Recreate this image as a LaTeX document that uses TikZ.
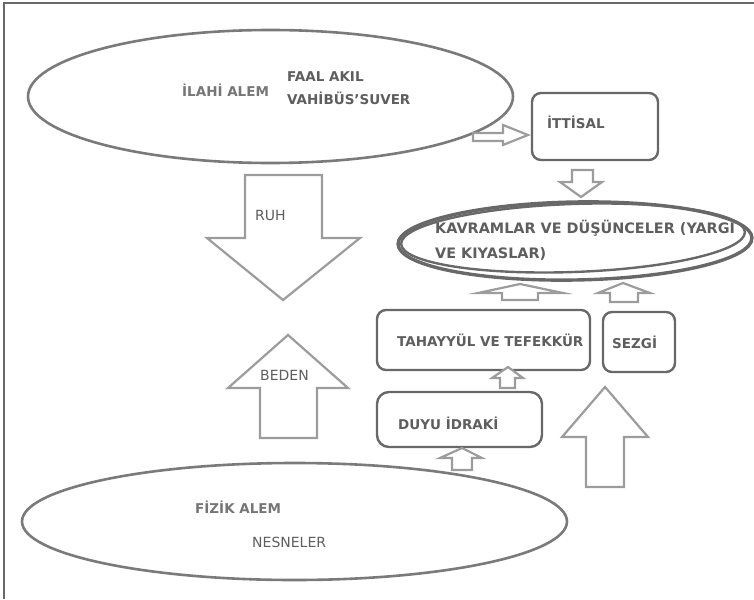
\documentclass[tikz,border=0pt]{standalone}
\usepackage{fontspec}
\setmainfont{DejaVu Sans}
\usetikzlibrary{shapes.geometric,positioning}
\definecolor{line1}{HTML}{7A7A7A}
\definecolor{line2}{HTML}{686868}
\definecolor{arrow1}{HTML}{9C9C9C}
\definecolor{text1}{HTML}{5E5E5E}
\definecolor{text2}{HTML}{767676}

\begin{document}
\begin{tikzpicture}[x=1pt,y=-1pt]
\tikzstyle{world}=[ellipse,draw=line1,line width=2.6pt,inner sep=0pt]
\tikzstyle{stage}=[rectangle,rounded corners=9pt,draw=line2,line width=2.4pt,inner sep=0pt]
\tikzstyle{annot}=[font=\fontsize{13.5}{16}\selectfont\bfseries,text=text1,inner sep=0pt,anchor=west]
\tikzstyle{plain annot}=[annot,font=\fontsize{14}{16}\selectfont]
\tikzstyle{hollow}=[draw=arrow1,line width=2.2pt,line join=miter,fill=white]

\useasboundingbox (0,0) rectangle (754,599);

% Frame
\draw[line2,line width=1.5pt] (4,599) -- (4,3) -- (754,3);

% The two worlds
\node[world,minimum width=485,minimum height=133] (ilahi) at (270.5,96.5) {};
\node[world,minimum width=545,minimum height=117] (fizik) at (294.5,521.5) {};

% Concepts, drawn twice
\node[world,draw=line2,line width=3.4pt,minimum width=354,minimum height=78,rotate=1] (kavram) at (575,241) {};
\node[world,draw=line2,line width=2.4pt,minimum width=344,minimum height=68,rotate=2] (kavram-in) at (573,238) {};

% Stages of knowing
\node[stage,minimum width=126,minimum height=67] (ittisal) at (595,126.5) {};
\node[stage,minimum width=213,minimum height=60] (tahayyul) at (483.5,340) {};
\node[stage,minimum width=72,minimum height=60] (sezgi) at (639,342) {};
\node[stage,minimum width=165,minimum height=55,rounded corners=12pt] (duyu) at (459.5,419.5) {};

% Labels
\node[annot,text=text2] (ilahi-t) at (182,90) {İLAHİ ALEM};
\node[annot] (faal-t) at (287,77) {FAAL AKIL};
\node[annot] (vahib-t) at (287,98) {VAHİBÜS{\char"0027}SUVER};
\node[annot] (ittisal-t) at (547,122) {İTTİSAL};
\node[annot,align=left,font=\fontsize{14.4}{25}\selectfont\bfseries] (kavram-t) at (435,240) {KAVRAMLAR VE DÜŞÜNCELER (YARGI\\VE KIYASLAR)};
\node[annot] (tahayyul-t) at (397,340) {TAHAYYÜL VE TEFEKKÜR};
\node[annot] (sezgi-t) at (612,342) {SEZGİ};
\node[annot] (duyu-t) at (398,423) {DUYU İDRAKİ};
\node[annot,text=text2] (fizik-t) at (195,507) {FİZİK ALEM};
\node[plain annot] (nesne-t) at (252,542) {NESNELER};

% Block arrows
\draw[hollow] (245,175) -- (322,175) -- (322,238) -- (360,238) -- (283,300) -- (207,238) -- (245,238) -- cycle;
\draw[hollow] (260,438) -- (260,388) -- (228,388) -- (288,335) -- (348,388) -- (317,388) -- (317,438) -- cycle;
\node[plain annot] (ruh-t) at (255,215) {RUH};
\node[plain annot] (beden-t) at (260,375) {BEDEN};

\draw[hollow] (473,133) -- (503,133) -- (503,125) -- (528,135) -- (503,145) -- (503,141) -- (473,141) -- cycle;
\draw[hollow] (572,170) -- (593,170) -- (593,182) -- (602,182) -- (581,197) -- (560,182) -- (572,182) -- cycle;
\draw[hollow] (502,300) -- (502,293) -- (478,293) -- (520,284) -- (563,293) -- (538,293) -- (538,300) -- cycle;
\draw[hollow] (610,302) -- (610,293) -- (598,293) -- (623,283) -- (650,293) -- (638,293) -- (638,302) -- cycle;
\draw[hollow] (500,388) -- (500,378) -- (492,378) -- (508,367) -- (523,378) -- (515,378) -- (515,388) -- cycle;
\draw[hollow] (452,470) -- (452,458) -- (440,458) -- (462,448) -- (482,458) -- (472,458) -- (472,470) -- cycle;
\draw[hollow] (586,487) -- (586,437) -- (562,437) -- (605,387) -- (648,437) -- (624,437) -- (624,487) -- cycle;
\end{tikzpicture}
\end{document}
